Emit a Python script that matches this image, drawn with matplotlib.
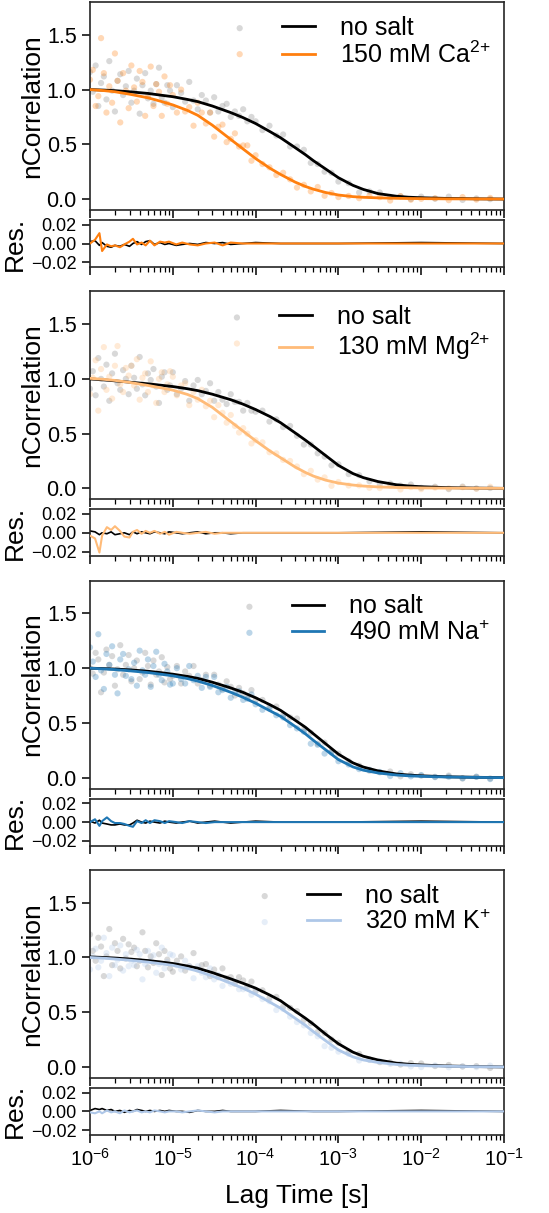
import numpy as np
import matplotlib
matplotlib.use('Agg')
import matplotlib.pyplot as plt

plt.rcParams['font.family'] = ['Liberation Sans', 'DejaVu Sans']
plt.rcParams['mathtext.fontset'] = 'custom'
plt.rcParams['mathtext.rm'] = 'Liberation Sans'
plt.rcParams['mathtext.default'] = 'regular'

# ---- data (lag times in microseconds) ----
lag_data_us = [1.00, 1.08, 1.17, 1.26, 1.36, 1.47, 1.58, 1.71, 1.85, 2.00, 2.15, 2.32, 2.51, 2.71, 2.93,
               3.16, 3.41, 3.68, 3.98, 4.30, 4.64, 5.01, 5.41, 5.84, 6.31, 6.81, 7.36, 7.94, 8.58, 9.26,
               10.0, 11.2, 12.6, 14.1, 15.8, 17.8, 20.0, 22.4, 25.1, 28.2, 31.6, 35.5, 39.8, 44.7, 50.1,
               56.2, 63.1, 70.8, 79.4, 89.1,
               100, 121, 147, 178, 215, 261, 316, 383, 464, 562, 681, 825,
               1000, 1330, 1780, 2370, 3160, 4220, 5620, 7500,
               10000, 14700, 21500, 31600, 46400, 68100]

data_ref_ca = [1.16, 0.98, 1.22, 0.85, 1.06, 1.12, 0.91, 1.26, 0.99, 0.80, 1.08, 1.14, 0.95, 1.03, 1.17,
               0.88, 0.99, 1.10, 0.78, 1.04, 1.15, 0.92, 0.99, 0.87, 1.05, 1.20, 0.93, 0.88, 1.04, 0.99,
               0.84, 1.04, 0.97, 0.89, 1.07, 0.90, 0.82, 0.95, 0.90, 0.79, 0.93, 0.80, 0.85, 0.87, 0.75,
               0.80, 0.76, 0.82, 0.71, 0.75,
               0.71, 0.63, 0.67, 0.58, 0.59, 0.48, 0.48, 0.45, 0.33, 0.32, 0.25, 0.24,
               0.16, 0.145, 0.06, 0.07, 0.06, 0.02, 0.025, 0.0,
               0.022, 0.003, 0.022, -0.008, 0.006, -0.001]
data_ca = [1.09, 1.18, 0.85, 0.94, 1.47, 1.15, 0.79, 1.03, 0.88, 1.33, 1.08, 0.70, 1.15, 0.99, 0.83,
           1.22, 1.02, 0.89, 1.17, 1.07, 0.76, 0.94, 1.21, 0.85, 1.05, 0.98, 0.76, 1.12, 0.87, 1.04,
           0.95, 0.79, 1.00, 0.80, 0.84, 0.67, 0.88, 0.79, 0.69, 0.79, 0.57, 0.66, 0.68, 0.52, 0.55,
           0.60, 0.48, 0.49, 0.49, 0.35,
           0.40, 0.32, 0.29, 0.22, 0.24, 0.18, 0.105, 0.13, 0.07, 0.11, 0.03, 0.055,
           0.018, 0.028, 0.008, 0.029, 0.018, -0.014, 0.027, -0.006,
           0.002, 0.007, -0.010, 0.018, -0.005, 0.010]
data_ref_mg = [0.91, 1.07, 0.85, 1.19, 1.00, 0.93, 1.13, 0.80, 1.05, 1.23, 0.96, 0.90, 1.08, 1.00, 0.86,
               1.12, 1.01, 0.91, 1.20, 0.95, 0.85, 1.05, 0.99, 1.09, 0.93, 0.78, 1.02, 1.06, 0.90, 0.94,
               1.06, 0.86, 0.91, 0.98, 0.80, 0.94, 0.99, 0.86, 0.89, 0.96, 0.80, 0.88, 0.81, 0.77, 0.86,
               0.79, 0.79, 0.71, 0.78, 0.71,
               0.70, 0.71, 0.61, 0.63, 0.56, 0.57, 0.48, 0.40, 0.40, 0.32, 0.29, 0.21,
               0.22, 0.13, 0.12, 0.065, 0.037, 0.044, 0.025, 0.035,
               0.005, 0.015, -0.007, 0.016, -0.001, 0.003]
data_mg = [0.86, 1.01, 1.17, 0.71, 1.09, 1.29, 0.90, 1.02, 0.82, 1.12, 1.30, 0.95, 0.88, 1.10, 1.03,
           1.12, 0.94, 1.18, 0.81, 1.01, 1.05, 0.88, 1.16, 0.94, 0.78, 1.00, 1.06, 0.88, 0.95, 1.07,
           1.02, 0.85, 0.94, 0.96, 0.76, 0.88, 0.81, 0.90, 0.75, 0.80, 0.65, 0.76, 0.69, 0.60, 0.67,
           0.57, 0.51, 0.55, 0.50, 0.41,
           0.44, 0.42, 0.33, 0.32, 0.26, 0.25, 0.20, 0.13, 0.16, 0.08, 0.10, 0.023,
           0.058, 0.026, 0.027, 0.005, 0.003, 0.026, -0.010, 0.012,
           -0.007, 0.007, 0.0, 0.010, -0.004, 0.015]
data_ref_na = [1.00, 0.95, 1.14, 1.08, 0.78, 0.96, 1.17, 1.03, 1.11, 0.84, 0.99, 1.21, 0.94, 1.03, 1.12,
               0.88, 1.00, 1.07, 0.90, 0.96, 1.14, 1.02, 0.85, 1.07, 0.94, 0.97, 1.10, 0.87, 1.01, 0.90,
               0.93, 1.02, 0.86, 0.97, 0.93, 1.02, 0.86, 0.89, 0.94, 0.84, 0.94, 0.85, 0.81, 0.88, 0.83,
               0.75, 0.82, 0.77, 0.73, 0.80,
               0.71, 0.71, 0.65, 0.65, 0.57, 0.55, 0.54, 0.44, 0.41, 0.31, 0.32, 0.24,
               0.22, 0.15, 0.11, 0.063, 0.049, 0.056, 0.012, 0.031,
               0.018, 0.008, 0.019, -0.008, 0.009, -0.007]
data_na = [1.19, 1.06, 0.92, 1.31, 0.98, 0.81, 1.13, 1.03, 1.20, 0.94, 0.77, 1.08, 1.13, 0.93, 0.99,
           0.90, 1.05, 0.84, 1.16, 0.98, 0.94, 1.08, 0.83, 1.02, 1.15, 0.94, 0.89, 1.04, 0.97, 0.85,
           0.86, 1.00, 0.90, 0.86, 1.02, 0.89, 0.93, 0.82, 0.92, 0.83, 0.92, 0.78, 0.80, 0.83, 0.73,
           0.78, 0.79, 0.71, 0.72, 0.76,
           0.67, 0.62, 0.63, 0.57, 0.55, 0.48, 0.45, 0.42, 0.31, 0.30, 0.22, 0.23,
           0.15, 0.12, 0.078, 0.072, 0.052, 0.015, 0.041, 0.012,
           0.024, 0.005, 0.008, -0.005, 0.007, -0.013]
data_ref_k = [1.21, 1.06, 0.97, 1.18, 1.10, 0.83, 1.01, 1.26, 0.93, 1.13, 1.06, 0.90, 1.17, 0.99, 1.12,
              1.05, 1.09, 0.92, 0.97, 1.23, 1.06, 0.91, 1.01, 0.95, 1.13, 1.03, 0.84, 1.06, 0.98, 0.90,
              0.87, 0.97, 1.01, 0.88, 0.92, 1.04, 0.89, 0.93, 0.94, 0.83, 0.89, 0.82, 0.90, 0.81, 0.82,
              0.76, 0.82, 0.79, 0.74, 0.78,
              0.69, 0.70, 0.63, 0.64, 0.55, 0.54, 0.51, 0.43, 0.40, 0.32, 0.31, 0.25,
              0.22, 0.14, 0.12, 0.068, 0.044, 0.042, 0.022, 0.035,
              0.032, 0.008, 0.018, 0.004, 0.008, -0.009]
data_k = [0.89, 1.01, 1.08, 0.91, 0.97, 1.18, 1.04, 0.83, 1.09, 0.93, 0.98, 1.11, 0.88, 1.03, 0.92,
          0.97, 0.93, 1.07, 1.03, 0.80, 0.94, 1.06, 0.97, 1.02, 0.86, 0.94, 1.09, 0.90, 0.96, 1.03,
          1.02, 0.93, 0.89, 0.97, 0.92, 0.81, 0.92, 0.86, 0.82, 0.90, 0.80, 0.84, 0.74, 0.79, 0.76,
          0.78, 0.71, 0.71, 0.72, 0.66,
          0.70, 0.62, 0.60, 0.52, 0.53, 0.46, 0.41, 0.38, 0.31, 0.28, 0.19, 0.175,
          0.14, 0.12, 0.059, 0.065, 0.054, 0.028, 0.030, 0.005,
          -0.001, 0.014, -0.003, 0.006, -0.002, 0.012]

lag_fit_us = [1, 1.5, 2, 3, 5, 7, 10, 15, 20, 30, 50, 70, 100, 150, 200, 300, 400, 500, 700,
              1000, 1500, 2000, 3000, 5000, 7000, 10000, 20000, 50000, 100000]
fit_ref_ca = [1.00, 0.995, 0.99, 0.98, 0.965, 0.95, 0.935, 0.91, 0.89, 0.85, 0.79, 0.745, 0.69, 0.615,
              0.56, 0.47, 0.405, 0.35, 0.275, 0.195, 0.125, 0.088, 0.05, 0.026, 0.017, 0.012, 0.006,
              0.002, 0.0]
fit_ca = [1.00, 0.99, 0.98, 0.958, 0.925, 0.895, 0.86, 0.81, 0.765, 0.675, 0.545, 0.46, 0.37, 0.28,
          0.225, 0.155, 0.115, 0.09, 0.06, 0.037, 0.022, 0.016, 0.011, 0.007, 0.005, 0.004, 0.002,
          0.001, 0.0]
fit_ref_mg = [1.00, 0.99, 0.982, 0.97, 0.955, 0.943, 0.93, 0.91, 0.893, 0.86, 0.81, 0.77, 0.72, 0.655,
              0.60, 0.507, 0.44, 0.385, 0.30, 0.21, 0.135, 0.098, 0.062, 0.033, 0.022, 0.015, 0.007,
              0.002, 0.0]
fit_mg = [1.005, 0.995, 0.986, 0.968, 0.94, 0.92, 0.897, 0.858, 0.82, 0.74, 0.61, 0.525, 0.435, 0.34,
          0.28, 0.195, 0.145, 0.112, 0.075, 0.048, 0.03, 0.021, 0.013, 0.008, 0.006, 0.004, 0.002,
          0.001, 0.0]
fit_ref_na = [1.00, 0.996, 0.992, 0.985, 0.972, 0.96, 0.945, 0.925, 0.907, 0.872, 0.82, 0.78, 0.73, 0.665,
              0.615, 0.525, 0.46, 0.40, 0.31, 0.215, 0.135, 0.097, 0.062, 0.034, 0.024, 0.017, 0.008,
              0.003, 0.0]
fit_na = [1.00, 0.993, 0.987, 0.976, 0.96, 0.946, 0.93, 0.905, 0.882, 0.842, 0.78, 0.735, 0.68, 0.61,
          0.56, 0.468, 0.40, 0.34, 0.255, 0.165, 0.098, 0.068, 0.043, 0.024, 0.017, 0.012, 0.006,
          0.002, 0.0]
fit_ref_k = [1.005, 1.0, 0.995, 0.986, 0.972, 0.96, 0.945, 0.922, 0.902, 0.862, 0.805, 0.765, 0.72, 0.655,
             0.605, 0.51, 0.445, 0.39, 0.30, 0.212, 0.135, 0.098, 0.064, 0.035, 0.025, 0.018, 0.009,
             0.003, 0.0]
fit_k = [1.00, 0.993, 0.986, 0.975, 0.958, 0.944, 0.928, 0.90, 0.876, 0.83, 0.765, 0.72, 0.665, 0.59,
         0.537, 0.445, 0.38, 0.322, 0.24, 0.155, 0.092, 0.064, 0.041, 0.023, 0.016, 0.012, 0.006,
         0.002, 0.0]

lag_res_us = [1.0, 1.15, 1.3, 1.4, 1.6, 1.8, 2.0, 2.3, 2.6, 3.0, 3.3, 3.7, 4.2, 4.7, 5.3, 6.0, 7.0,
              8.0, 9.0, 11, 13, 16, 20, 25, 32, 40, 50, 70, 100, 200, 500, 1000, 10000, 100000]
res_ref_ca = [0.002, 0.003, -0.002, 0.001, -0.003, -0.004, -0.002, -0.003, -0.001, -0.003, 0.000, 0.002,
              -0.001, 0.002, 0.003, -0.001, 0.001, -0.001, 0.000, -0.002, -0.001, 0.000, -0.001, 0.001,
              0.000, 0.001, -0.001, 0.000, 0.001, 0.000, 0.000, 0.000, 0.001, 0.000]
res_ca = [0.000, 0.004, 0.011, -0.008, -0.001, -0.003, -0.002, -0.004, -0.001, 0.002, 0.005, -0.001,
          0.001, -0.002, 0.003, -0.002, 0.002, 0.001, 0.002, -0.001, 0.001, -0.001, -0.002, 0.000,
          0.001, -0.002, 0.001, 0.000, 0.000, 0.000, 0.000, 0.000, 0.000, 0.000]
res_ref_mg = [0.002, 0.001, -0.002, 0.000, -0.001, 0.001, -0.002, -0.001, 0.000, -0.002, 0.001, -0.001,
              0.001, 0.000, -0.001, 0.001, 0.000, -0.001, 0.001, 0.000, -0.001, 0.000, 0.001, -0.001,
              0.000, 0.000, -0.001, 0.000, 0.000, 0.000, 0.000, 0.000, 0.001, 0.000]
res_mg = [-0.003, -0.006, -0.021, -0.003, 0.006, 0.003, 0.007, 0.002, -0.004, -0.005, 0.001, 0.003,
          -0.001, 0.002, 0.000, 0.002, -0.001, 0.001, -0.002, 0.001, 0.000, -0.001, 0.000, 0.001,
          -0.001, 0.000, 0.000, 0.000, 0.000, 0.000, 0.000, 0.000, 0.000, 0.000]
res_ref_na = [0.001, -0.001, 0.002, -0.001, -0.002, -0.003, -0.003, -0.002, -0.003, -0.003, -0.001, 0.002,
              0.000, -0.001, 0.001, 0.000, -0.001, 0.001, 0.000, -0.001, 0.000, 0.001, -0.001, 0.000,
              0.001, 0.000, -0.001, 0.000, 0.001, 0.000, 0.000, 0.000, 0.001, 0.000]
res_na = [0.000, 0.003, -0.004, 0.001, 0.005, 0.001, -0.001, -0.001, -0.002, -0.004, -0.005, 0.001,
          -0.001, 0.002, -0.001, 0.002, 0.001, -0.001, 0.001, 0.000, -0.001, 0.001, 0.000, -0.001,
          0.000, 0.000, 0.000, 0.000, 0.000, 0.000, 0.000, 0.000, 0.000, 0.000]
res_ref_k = [0.001, 0.003, 0.002, 0.003, 0.001, 0.002, 0.000, 0.001, -0.001, 0.001, 0.000, 0.002,
             0.001, 0.000, 0.001, 0.000, 0.001, 0.000, 0.001, 0.000, 0.000, -0.001, 0.001, 0.000,
             0.000, 0.001, 0.000, 0.000, 0.000, 0.001, 0.000, 0.000, 0.001, 0.000]
res_k = [-0.001, -0.002, 0.000, -0.002, 0.001, -0.001, 0.000, -0.002, 0.001, -0.001, 0.000, 0.001,
         -0.001, 0.000, -0.001, 0.001, 0.000, -0.001, 0.000, 0.000, -0.001, 0.000, 0.001, 0.000,
         -0.001, 0.000, 0.000, 0.000, 0.000, 0.000, 0.000, 0.000, 0.000, 0.000]

salt_labels = ['150 mM Ca$^{2{+}}$', '130 mM Mg$^{2{+}}$', '490 mM Na$^{{+}}$', '320 mM K$^{{+}}$']
salt_colors = ['#ff7f0e', '#ffbb78', '#1f77b4', '#aec7e8']

panels = [
    (data_ref_ca, data_ca, fit_ref_ca, fit_ca, res_ref_ca, res_ca),
    (data_ref_mg, data_mg, fit_ref_mg, fit_mg, res_ref_mg, res_mg),
    (data_ref_na, data_na, fit_ref_na, fit_na, res_ref_na, res_na),
    (data_ref_k, data_k, fit_ref_k, fit_k, res_ref_k, res_k),
]

t_data = np.array(lag_data_us) * 1e-6
t_fit = np.array(lag_fit_us) * 1e-6
t_res = np.array(lag_res_us) * 1e-6

W, H = 549, 1213
fig = plt.figure(figsize=(W / 100, H / 100), dpi=100)
x0, w = 90, 414
step = 289.3
lab_fs = 19


def style(ax, ysize):
    ax.set_xscale('log')
    ax.set_xlim(1e-6, 1e-1)
    for s in ax.spines.values():
        s.set_linewidth(1.2)
        s.set_color('0.15')
    ax.tick_params(which='major', direction='out', length=6, width=1.1)
    ax.tick_params(which='minor', direction='out', length=3.5, width=0.9)
    ax.tick_params(axis='y', labelsize=ysize)
    ax.tick_params(axis='x', labelsize=14.5)


for i, (d_ref, d_salt, f_ref, f_salt, r_ref, r_salt) in enumerate(panels):
    col = salt_colors[i]
    top = 2 + step * i
    bot = 210 + step * i
    ax = fig.add_axes([x0 / W, 1 - bot / H, w / W, (bot - top) / H])
    rtop = 220 + step * i
    rbot = 267 + step * i
    rax = fig.add_axes([x0 / W, 1 - rbot / H, w / W, (rbot - rtop) / H])

    sc1 = ax.scatter(t_data, d_ref, s=20, color='gray', alpha=0.3, edgecolors='none', zorder=1)
    sc2 = ax.scatter(t_data, d_salt, s=20, color=col, alpha=0.3, edgecolors='none', zorder=1)
    l1, = ax.plot(t_fit, f_ref, color='black', lw=2, zorder=3)
    l2, = ax.plot(t_fit, f_salt, color=col, lw=2, zorder=3)
    style(ax, 15.5)
    ax.set_ylim(-0.1, 1.8)
    ax.set_yticks([0.0, 0.5, 1.0, 1.5])
    ax.tick_params(labelbottom=False)
    ax.set_ylabel('nCorrelation', fontsize=lab_fs, labelpad=2)
    ax.legend([sc1, sc2, l1, l2], ['', '', 'no salt', salt_labels[i]], ncol=2,
              loc='upper right', frameon=False, fontsize=18, handlelength=1.3,
              handletextpad=1.0, columnspacing=0.05, labelspacing=0.08,
              borderaxespad=0.15, scatterpoints=1)

    rax.plot(t_res, r_ref, color='black', lw=1.2, zorder=2)
    rax.plot(t_res, r_salt, color=col, lw=1.5, zorder=3)
    style(rax, 13)
    rax.set_ylim(-0.025, 0.025)
    rax.set_yticks([-0.02, 0.0, 0.02])
    rax.set_ylabel('Res.', fontsize=lab_fs, labelpad=3)
    if i < 3:
        rax.tick_params(labelbottom=False)
    else:
        rax.set_xlabel('Lag Time [s]', fontsize=lab_fs, labelpad=10)

fig.savefig('out.png', dpi=100)
